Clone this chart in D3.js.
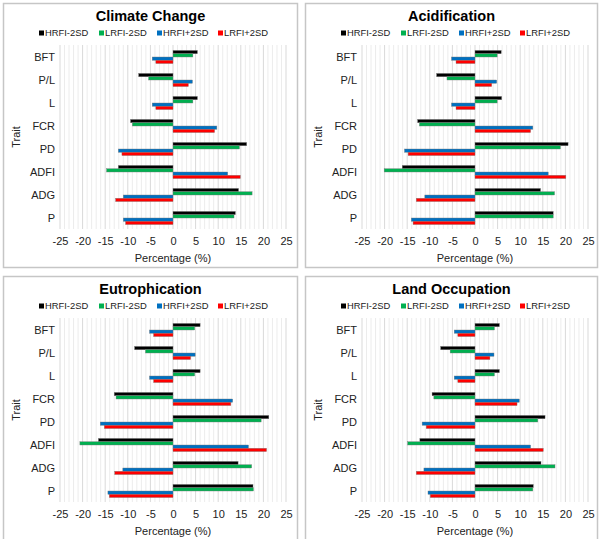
<!DOCTYPE html>
<html><head><meta charset="utf-8">
<script src="https://cdn.jsdelivr.net/npm/d3@7"></script>
<style>body{margin:0;background:#fff;font-family:Arial,"Liberation Sans",sans-serif;}</style>
</head><body>
<svg id="c" width="600" height="539"></svg>
<script>
const traits = ["BFT","P/L","L","FCR","PD","ADFI","ADG","P"];
const seriesNames = ["HRFI-2SD","LRFI-2SD","HRFI+2SD","LRFI+2SD"];
const seriesColors = ["#000000","#00B050","#0070C0","#FF0000"];
const xTicks = [-25,-20,-15,-10,-5,0,5,10,15,20,25];
const panelTitles = ["Climate Change","Acidification","Eutrophication","Land Occupation"];

// values per trait, order: BFT, P/L, L, FCR, PD, ADFI, ADG, P
const climateHRFIminus = [5.4,-7.6,5.4,-9.4,16.3,-12.1,14.5,13.8];
const climateLRFIminus = [4.4,-5.4,4.4,-9.0,14.7,-14.7,17.5,13.5];
const climateHRFIplus  = [-4.6,4.3,-4.6,9.7,-12.1,12.1,-11.0,-11.0];
const climateLRFIplus  = [-3.8,3.4,-3.8,9.2,-11.3,14.9,-12.7,-10.5];

const acidHRFIminus = [5.8,-8.5,5.9,-12.7,20.6,-16.1,14.5,17.3];
const acidLRFIminus = [4.9,-6.2,4.9,-12.3,18.9,-20.1,17.6,17.3];
const acidHRFIplus  = [-5.2,4.8,-5.2,12.8,-15.6,16.2,-11.1,-14.1];
const acidLRFIplus  = [-4.2,3.7,-4.2,12.3,-14.8,20.1,-13.0,-13.7];

const eutroHRFIminus = [6.0,-8.5,6.0,-13.0,21.2,-16.5,14.4,17.7];
const eutroLRFIminus = [4.8,-6.1,4.8,-12.6,19.5,-20.6,17.4,17.8];
const eutroHRFIplus  = [-5.2,4.9,-5.2,13.2,-16.1,16.7,-11.1,-14.4];
const eutroLRFIplus  = [-4.3,3.9,-4.3,12.8,-15.2,20.7,-12.9,-14.1];

const landHRFIminus = [5.4,-7.6,5.4,-9.5,15.5,-12.2,14.6,12.9];
const landLRFIminus = [4.3,-5.5,4.3,-9.1,13.9,-14.9,17.7,12.8];
const landHRFIplus  = [-4.6,4.2,-4.6,9.8,-11.7,12.3,-11.3,-10.4];
const landLRFIplus  = [-3.8,3.3,-3.8,9.3,-10.8,15.1,-13.0,-9.9];

const panelData = [
  [climateHRFIminus,climateLRFIminus,climateHRFIplus,climateLRFIplus],
  [acidHRFIminus,acidLRFIminus,acidHRFIplus,acidLRFIplus],
  [eutroHRFIminus,eutroLRFIminus,eutroHRFIplus,eutroLRFIplus],
  [landHRFIminus,landLRFIminus,landHRFIplus,landLRFIplus]
];

const panels = [
  {x:3,y:3,w:295,h:265},
  {x:305,y:3,w:293,h:265},
  {x:3,y:276,w:295,h:265},
  {x:305,y:276,w:293,h:265}
];

const svg = d3.select("#c");

panels.forEach((p,pi)=>{
  const g = svg.append("g").attr("transform",`translate(${p.x},${p.y})`);
  g.append("rect").attr("x",0.5).attr("y",0.5).attr("width",p.w-1).attr("height",p.h-1)
    .attr("fill","#fff").attr("stroke","#c6c6c6").attr("stroke-width",1.5);

  const plotTop = 42, plotBottom = 226;
  const x = d3.scaleLinear().domain([-25,25]).range([57,283]);
  const y = d3.scaleBand().domain(traits).range([42.5,226.5]).paddingInner(0.43).paddingOuter(0.215);
  const ySub = d3.scaleBand().domain(seriesNames).range([0,y.bandwidth()]);

  // gridlines
  const minor = d3.range(-25,26,1);
  g.append("g").selectAll("line").data(minor).join("line")
    .attr("x1",d=>x(d)).attr("x2",d=>x(d)).attr("y1",plotTop).attr("y2",plotBottom)
    .attr("stroke",d=>d%5===0?"#d9d9d9":"#ececec").attr("stroke-width",1);

  // title
  g.append("text").attr("x",(p.w)/2).attr("y",17.5).attr("text-anchor","middle")
    .attr("font-size",14.5).attr("font-weight","bold").attr("fill","#000").text(panelTitles[pi]);

  // legend
  const legX = [36,96,154,215];
  const leg = g.append("g").attr("transform","translate(0,30)");
  seriesNames.forEach((s,si)=>{
    leg.append("rect").attr("x",legX[si]).attr("y",-2.5).attr("width",5).attr("height",5).attr("fill",seriesColors[si]);
    leg.append("text").attr("x",legX[si]+6).attr("y",0).attr("dy","0.35em").attr("font-size",9.4).attr("fill","#222").text(s);
  });

  // bars
  const data = panelData[pi];
  seriesNames.forEach((s,si)=>{
    g.append("g").selectAll("rect").data(traits.map((t,ti)=>({t,v:data[si][ti]}))).join("rect")
      .attr("x",d=>x(Math.min(0,d.v)))
      .attr("width",d=>Math.abs(x(d.v)-x(0)))
      .attr("y",d=>y(d.t)+ySub(s))
      .attr("height",ySub.bandwidth())
      .attr("fill",seriesColors[si])
      .attr("stroke","#7a7a7a").attr("stroke-width",0.4);
  });

  // y axis labels
  const yAxis = d3.axisLeft(y).tickSize(0).tickPadding(0);
  const ya = g.append("g").attr("transform",`translate(${x(-25)-5},0)`).call(yAxis);
  ya.select(".domain").remove();
  ya.selectAll("text").attr("font-size",11).attr("fill","#222").attr("font-family","Arial, Liberation Sans, sans-serif");

  // x axis labels
  const xAxis = d3.axisBottom(x).tickValues(xTicks).tickFormat(d=>String(d)).tickSize(0).tickPadding(0);
  const xa = g.append("g").attr("transform",`translate(0,${plotBottom+8})`).call(xAxis);
  xa.select(".domain").remove();
  xa.selectAll("text").attr("font-size",11).attr("fill","#222").attr("font-family","Arial, Liberation Sans, sans-serif");

  g.append("text").attr("x",x(0)).attr("y",259).attr("text-anchor","middle")
    .attr("font-size",11).attr("fill","#222").text("Percentage (%)");

  g.append("text").attr("transform",`translate(17,${(plotTop+plotBottom)/2}) rotate(-90)`)
    .attr("text-anchor","middle").attr("font-size",11).attr("fill","#222").text("Trait");
});
</script>
</body></html>
